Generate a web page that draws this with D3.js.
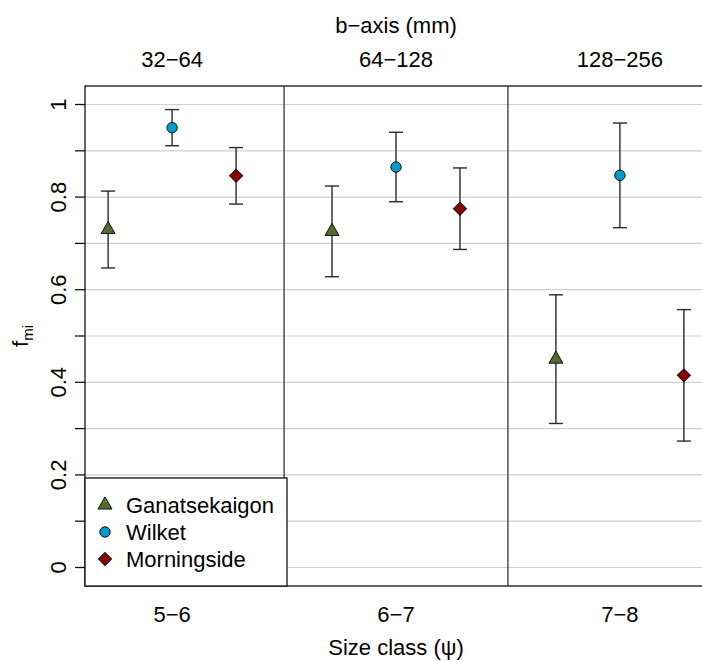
<!DOCTYPE html>
<meta charset="utf-8">

<!-- Load d3.js -->
<script src="https://d3js.org/d3.v7.min.js"></script>

<body>
  <div id="my_dataviz"></div>
</body>

<style>
body {
  margin: 0;
  padding: 0;
  background: white;
}
svg text {
  font-family: 'Liberation Sans', Arial, Helvetica, sans-serif;
  fill: black;
}
</style>

<script>

// categories along the bottom (size class) and top (b-axis) of the chart
var sizeClasses = ["5\u22126", "6\u22127", "7\u22128"];
var bAxisClasses = ["32\u221264", "64\u2212128", "128\u2212256"];
var sites = ["Ganatsekaigon", "Wilket", "Morningside"];

// mean f_mi and half-width of the error bar, one value per size class
var ganatsekaigonMean = [0.730, 0.726, 0.450];
var ganatsekaigonErr  = [0.083, 0.098, 0.139];
var wilketMean = [0.950, 0.865, 0.847];
var wilketErr  = [0.039, 0.075, 0.113];
var morningsideMean = [0.846, 0.775, 0.415];
var morningsideErr  = [0.061, 0.088, 0.142];

var yTicks = [0, 0.1, 0.2, 0.3, 0.4, 0.5, 0.6, 0.7, 0.8, 0.9, 1];
var yLabels = [0, 0.2, 0.4, 0.6, 0.8, 1];

// set the dimensions of the page
var width = 702,
    height = 661;

var svg = d3.select("#my_dataviz")
  .append("svg")
    .attr("width", width)
    .attr("height", height);

// x runs past the right edge, like the original plot
var x = d3.scaleLinear()
  .domain([0.611, 3.389])
  .range([85, 707]);

var y = d3.scaleLinear()
  .domain([-0.04, 1.04])
  .range([586, 86]);

var offset = 2 / 7;

var siteColor = d3.scaleOrdinal()
  .domain(sites)
  .range(["#556B2F", "#009ACD", "#8B0000"]);

var siteSymbol = d3.scaleOrdinal()
  .domain(sites)
  .range([d3.symbolTriangle, d3.symbolCircle, d3.symbolSquare]);

var siteRotate = function(s) { return s == "Morningside" ? 45 : 0; };

// build one table from the arrays
var means = [ganatsekaigonMean, wilketMean, morningsideMean];
var errs = [ganatsekaigonErr, wilketErr, morningsideErr];
var data = [];
sites.forEach(function(s, i) {
  sizeClasses.forEach(function(c, j) {
    data.push({site: s, pos: j + 1 + (i - 1) * offset, mean: means[i][j], err: errs[i][j]});
  });
});

// horizontal grid lines
svg.append("g")
  .selectAll("line")
  .data(yTicks)
  .enter()
  .append("line")
    .attr("x1", x(0.611))
    .attr("x2", width)
    .attr("y1", function(d) { return y(d); })
    .attr("y2", function(d) { return y(d); })
    .attr("stroke", "#cfcfcf")
    .attr("stroke-width", 1.2);

// separators between size classes
svg.append("g")
  .selectAll("line")
  .data([1.5, 2.5])
  .enter()
  .append("line")
    .attr("x1", function(d) { return x(d); })
    .attr("x2", function(d) { return x(d); })
    .attr("y1", y(-0.04))
    .attr("y2", y(1.04))
    .attr("stroke", "#222")
    .attr("stroke-width", 1.2);

// plot box (right side falls outside the page)
svg.append("rect")
  .attr("x", x(0.611))
  .attr("y", y(1.04))
  .attr("width", x(3.389) - x(0.611))
  .attr("height", y(-0.04) - y(1.04))
  .attr("fill", "none")
  .attr("stroke", "#111")
  .attr("stroke-width", 1.3);

// left axis: ticks every 0.1, labels every 0.2
var yAxis = svg.append("g");
yAxis.selectAll("line")
  .data(yTicks)
  .enter()
  .append("line")
    .attr("x1", 75)
    .attr("x2", x(0.611))
    .attr("y1", function(d) { return y(d); })
    .attr("y2", function(d) { return y(d); })
    .attr("stroke", "#111")
    .attr("stroke-width", 1.3);

yAxis.selectAll("text")
  .data(yLabels)
  .enter()
  .append("text")
    .attr("transform", function(d) { return "translate(66," + y(d) + ") rotate(-90)"; })
    .attr("text-anchor", "middle")
    .style("font-size", "22px")
    .text(function(d) { return d; });

// y axis title f_mi
var yTitle = svg.append("text")
  .attr("transform", "translate(28," + y(0.5) + ") rotate(-90)")
  .attr("text-anchor", "middle")
  .style("font-size", "22px");
yTitle.append("tspan").text("f");
yTitle.append("tspan")
  .attr("dy", 5)
  .style("font-size", "15px")
  .text("mi");

// bottom labels
svg.append("g")
  .selectAll("text")
  .data(sizeClasses)
  .enter()
  .append("text")
    .attr("x", function(d, i) { return x(i + 1); })
    .attr("y", 622)
    .attr("text-anchor", "middle")
    .style("font-size", "22px")
    .text(function(d) { return d; });

svg.append("text")
  .attr("x", x(2))
  .attr("y", 655)
  .attr("text-anchor", "middle")
  .style("font-size", "22px")
  .text("Size class (\u03C8)");

// top labels
svg.append("g")
  .selectAll("text")
  .data(bAxisClasses)
  .enter()
  .append("text")
    .attr("x", function(d, i) { return x(i + 1); })
    .attr("y", 67)
    .attr("text-anchor", "middle")
    .style("font-size", "22px")
    .text(function(d) { return d; });

svg.append("text")
  .attr("x", x(2))
  .attr("y", 33)
  .attr("text-anchor", "middle")
  .style("font-size", "22px")
  .text("b\u2212axis (mm)");

// error bars
var bars = svg.append("g")
  .selectAll("g")
  .data(data)
  .enter()
  .append("g")
    .attr("stroke", "#2a2a2a")
    .attr("stroke-width", 1.4);

bars.append("line")
  .attr("x1", function(d) { return x(d.pos); })
  .attr("x2", function(d) { return x(d.pos); })
  .attr("y1", function(d) { return y(d.mean - d.err); })
  .attr("y2", function(d) { return y(d.mean + d.err); });

bars.append("line")
  .attr("x1", function(d) { return x(d.pos) - 7; })
  .attr("x2", function(d) { return x(d.pos) + 7; })
  .attr("y1", function(d) { return y(d.mean + d.err); })
  .attr("y2", function(d) { return y(d.mean + d.err); });

bars.append("line")
  .attr("x1", function(d) { return x(d.pos) - 7; })
  .attr("x2", function(d) { return x(d.pos) + 7; })
  .attr("y1", function(d) { return y(d.mean - d.err); })
  .attr("y2", function(d) { return y(d.mean - d.err); });

// points
svg.append("g")
  .selectAll("path")
  .data(data)
  .enter()
  .append("path")
    .attr("d", function(d) { return d3.symbol().type(siteSymbol(d.site)).size(85)(); })
    .attr("transform", function(d) { return "translate(" + x(d.pos) + "," + y(d.mean) + ") rotate(" + siteRotate(d.site) + ")"; })
    .attr("fill", function(d) { return siteColor(d.site); })
    .attr("stroke", "#111")
    .attr("stroke-width", 1);

// legend box in the bottom-left corner
var legend = svg.append("g");
legend.append("rect")
  .attr("x", x(0.611))
  .attr("y", 478)
  .attr("width", 202)
  .attr("height", y(-0.04) - 478)
  .attr("fill", "white")
  .attr("stroke", "#111")
  .attr("stroke-width", 1.3);

legend.selectAll("path")
  .data(sites)
  .enter()
  .append("path")
    .attr("d", function(d) { return d3.symbol().type(siteSymbol(d)).size(85)(); })
    .attr("transform", function(d, i) { return "translate(105," + (505 + i * 27) + ") rotate(" + siteRotate(d) + ")"; })
    .attr("fill", function(d) { return siteColor(d); })
    .attr("stroke", "#111")
    .attr("stroke-width", 1);

legend.selectAll("text")
  .data(sites)
  .enter()
  .append("text")
    .attr("x", 126)
    .attr("y", function(d, i) { return 505 + i * 27 + 7.7; })
    .style("font-size", "22px")
    .text(function(d) { return d; });

</script>
